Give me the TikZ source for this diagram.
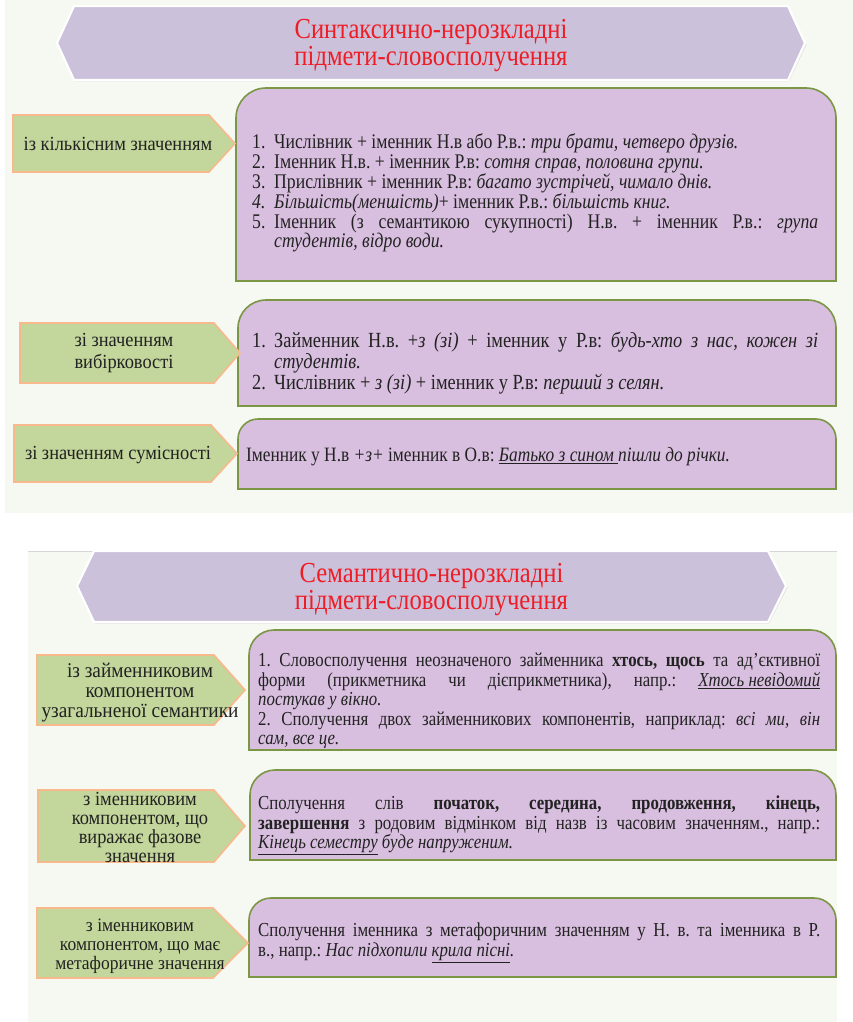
\documentclass[tikz,border=0pt]{standalone}
\usepackage{fontspec}
\setmainfont[FakeStretch=0.85]{Liberation Serif}
\newfontfamily\tagfont[FakeStretch=0.92]{Liberation Serif}
\definecolor{panelbg}{HTML}{F6F9F2}
\definecolor{rulegray}{HTML}{D6D6D6}
\definecolor{bannerfill}{HTML}{CCC1DA}
\definecolor{titlered}{HTML}{EE1C25}
\definecolor{tagfill}{HTML}{C3D69B}
\definecolor{tagline}{HTML}{F8B98C}
\definecolor{cardfill}{HTML}{D9BFDF}
\definecolor{cardline}{HTML}{7B9645}
\definecolor{ink}{HTML}{222222}
\newcommand{\numitem}[1]{\par\noindent\hangindent=22pt\hangafter=1\makebox[22pt][l]{#1}}

\begin{document}
\begin{tikzpicture}[x=1pt, y=-1pt,
    banner/.style={fill=bannerfill, draw=white, line width=2.2pt, line join=miter},
    bannershadow/.style={fill=black!12, draw=none},
    tag/.style={fill=tagfill, draw=tagline, line width=1.6pt},
    card/.style={fill=cardfill, draw=cardline, line width=1.6pt},
    title/.style={align=center, text=titlered, font=\fontsize{29}{27}\selectfont},
    tagtext/.style={align=center, text=ink, inner sep=0pt, font=\tagfont\fontsize{20}{20}\selectfont},
    cardtext/.style={anchor=north west, inner sep=0pt, align=justify, text=ink, font=\fontsize{19.8}{19.5}\selectfont\frenchspacing}
  ]
  \useasboundingbox (0,0) rectangle (853,1022);
  \fill[white] (0,0) rectangle (853,1022);

  % background panels
  \fill[panelbg] (5,0) rectangle (853,513);
  \fill[panelbg] (28,551) rectangle (837,1022);
  \draw[rulegray, line width=1pt] (28,551) -- (837,551);

  % top banner
  \fill[bannershadow] (58,44.5) -- (75,7.5) -- (789,7.5) -- (806.5,44.5) -- (789,81.5) -- (75,81.5) -- cycle;
  \draw[banner] (57,43) -- (74,6) -- (788,6) -- (805,43) -- (788,80) -- (74,80) -- cycle;
  \node[title] (head1) at (431,46) {Синтаксично-нерозкладні\\підмети-словосполучення};

  % top cards
  \draw[card] (236,281) -- (236,118) arc[start angle=180, end angle=270, radius=30] -- (806,88) arc[start angle=270, end angle=360, radius=30] -- (836,281) -- cycle;
  \draw[card] (238,406) -- (238,328) arc[start angle=180, end angle=270, radius=28] -- (808,300) arc[start angle=270, end angle=360, radius=28] -- (836,406) -- cycle;
  \draw[card] (238,489) -- (238,439) arc[start angle=180, end angle=270, radius=20] -- (816,419) arc[start angle=270, end angle=360, radius=20] -- (836,489) -- cycle;

  % top tags
  \draw[tag] (13,115) -- (209,115) -- (235,143.5) -- (209,172) -- (13,172) -- cycle;
  \draw[tag] (20,323) -- (214,323) -- (240,353) -- (214,383) -- (20,383) -- cycle;
  \draw[tag] (14,425) -- (211,425) -- (237,453.5) -- (211,482) -- (14,482) -- cycle;
  \node[tagtext] (quant) at (118,144) {із кількісним значенням};
  \node[tagtext, font=\tagfont\fontsize{20}{22}\selectfont] (select) at (124,353) {зі значенням\\вибірковості};
  \node[tagtext] (joint) at (118,455) {зі значенням сумісності};

  \node[cardtext, text width=566pt, font=\fontsize{20.8}{19.8}\selectfont\frenchspacing] (quanttxt) at (252,129) {%
    \numitem{1.}Числівник + іменник Н.в або Р.в.: \textit{три брати, четверо друзів.}
    \numitem{2.}Іменник Н.в. + іменник Р.в: \textit{сотня справ, половина групи.}
    \numitem{3.}Прислівник + іменник Р.в: \textit{багато зустрічей, чимало днів.}
    \numitem{\textit{4.}}\textit{Більшість(меншість)}+ іменник Р.в.: \textit{більшість книг.}
    \numitem{5.}Іменник (з семантикою сукупності) Н.в. + іменник Р.в.: \textit{група}\linebreak \textit{студентів, відро води.}\par};
  \node[cardtext, text width=566pt, font=\fontsize{21.6}{19.3}\selectfont\frenchspacing] (selecttxt) at (252,328) {%
    \numitem{1.}Займенник Н.в. +\textit{з (зі)} + іменник у Р.в: \textit{будь-хто з нас, кожен зі}\linebreak \textit{студентів.}
    \numitem{2.}Числівник + \textit{з (зі)} + іменник у Р.в: \textit{перший з селян.}\par};
  \node[cardtext, anchor=west, font=\fontsize{20.4}{19.5}\selectfont\frenchspacing] (jointtxt) at (246,457) {Іменник у Н.в \textit{+з+} іменник в О.в: \underline{\textit{Батько з сином\ }}\textit{пішли до річки.}};

  % bottom banner
  \fill[bannershadow] (78,587.5) -- (95,552.5) -- (769,552.5) -- (787.5,587.5) -- (769,623.5) -- (95,623.5) -- cycle;
  \draw[banner] (77,586) -- (94,551) -- (768,551) -- (786,586) -- (768,622) -- (94,622) -- cycle;
  \node[title] (head2) at (431.5,590) {Семантично-нерозкладні\\підмети-словосполучення};

  % bottom cards
  \draw[card] (249,750) -- (249,655) arc[start angle=180, end angle=270, radius=25] -- (811,630) arc[start angle=270, end angle=360, radius=25] -- (836,750) -- cycle;
  \draw[card] (250,860) -- (250,795) arc[start angle=180, end angle=270, radius=25] -- (811,770) arc[start angle=270, end angle=360, radius=25] -- (836,860) -- cycle;
  \draw[card] (249,977) -- (249,920) arc[start angle=180, end angle=270, radius=22] -- (814,898) arc[start angle=270, end angle=360, radius=22] -- (836,977) -- cycle;

  % bottom tags
  \draw[tag] (37,655) -- (214,655) -- (245,690) -- (214,725) -- (37,725) -- cycle;
  \draw[tag] (38,790) -- (214,790) -- (245,826) -- (214,862) -- (38,862) -- cycle;
  \draw[tag] (37,908) -- (213,908) -- (248,943) -- (213,978) -- (37,978) -- cycle;
  \node[tagtext, font=\tagfont\fontsize{21}{20}\selectfont] (pron) at (140,693) {із займенниковим\\компонентом\\узагальненої семантики};
  \node[tagtext, font=\tagfont\fontsize{20}{19}\selectfont] (phase) at (140,827) {з іменниковим\\компонентом, що\\виражає фазове\\значення};
  \node[tagtext, font=\tagfont\fontsize{19}{19}\selectfont] (metaph) at (140,946) {з іменниковим\\компонентом, що має\\метафоричне значення};

  \node[cardtext, text width=562pt] (prontxt) at (258,653) {%
    1. Словосполучення неозначеного займенника \textbf{хтось, щось} та ад’єктивної\linebreak форми (прикметника чи дієприкметника), напр.: \underline{\textit{Хтось невідомий}}\linebreak \textit{постукав у вікно.}\par
    \noindent 2. Сполучення двох займенникових компонентів, наприклад: \textit{всі ми, він}\linebreak \textit{сам, все це.}\par};
  \node[cardtext, text width=562pt] (phasetxt) at (258,796) {%
    Сполучення слів \textbf{початок, середина, продовження, кінець,}\linebreak \textbf{завершення} з родовим відмінком від назв із часовим значенням., напр.:\linebreak \underline{\textit{Кінець семестру}} \textit{буде напруженим.}\par};
  \node[cardtext, text width=562pt] (metaphtxt) at (258,923) {%
    Сполучення іменника з метафоричним значенням у Н. в. та іменника в Р.\linebreak в., напр.: \textit{Нас підхопили \underline{крила пісні}.}\par};
\end{tikzpicture}
\end{document}
